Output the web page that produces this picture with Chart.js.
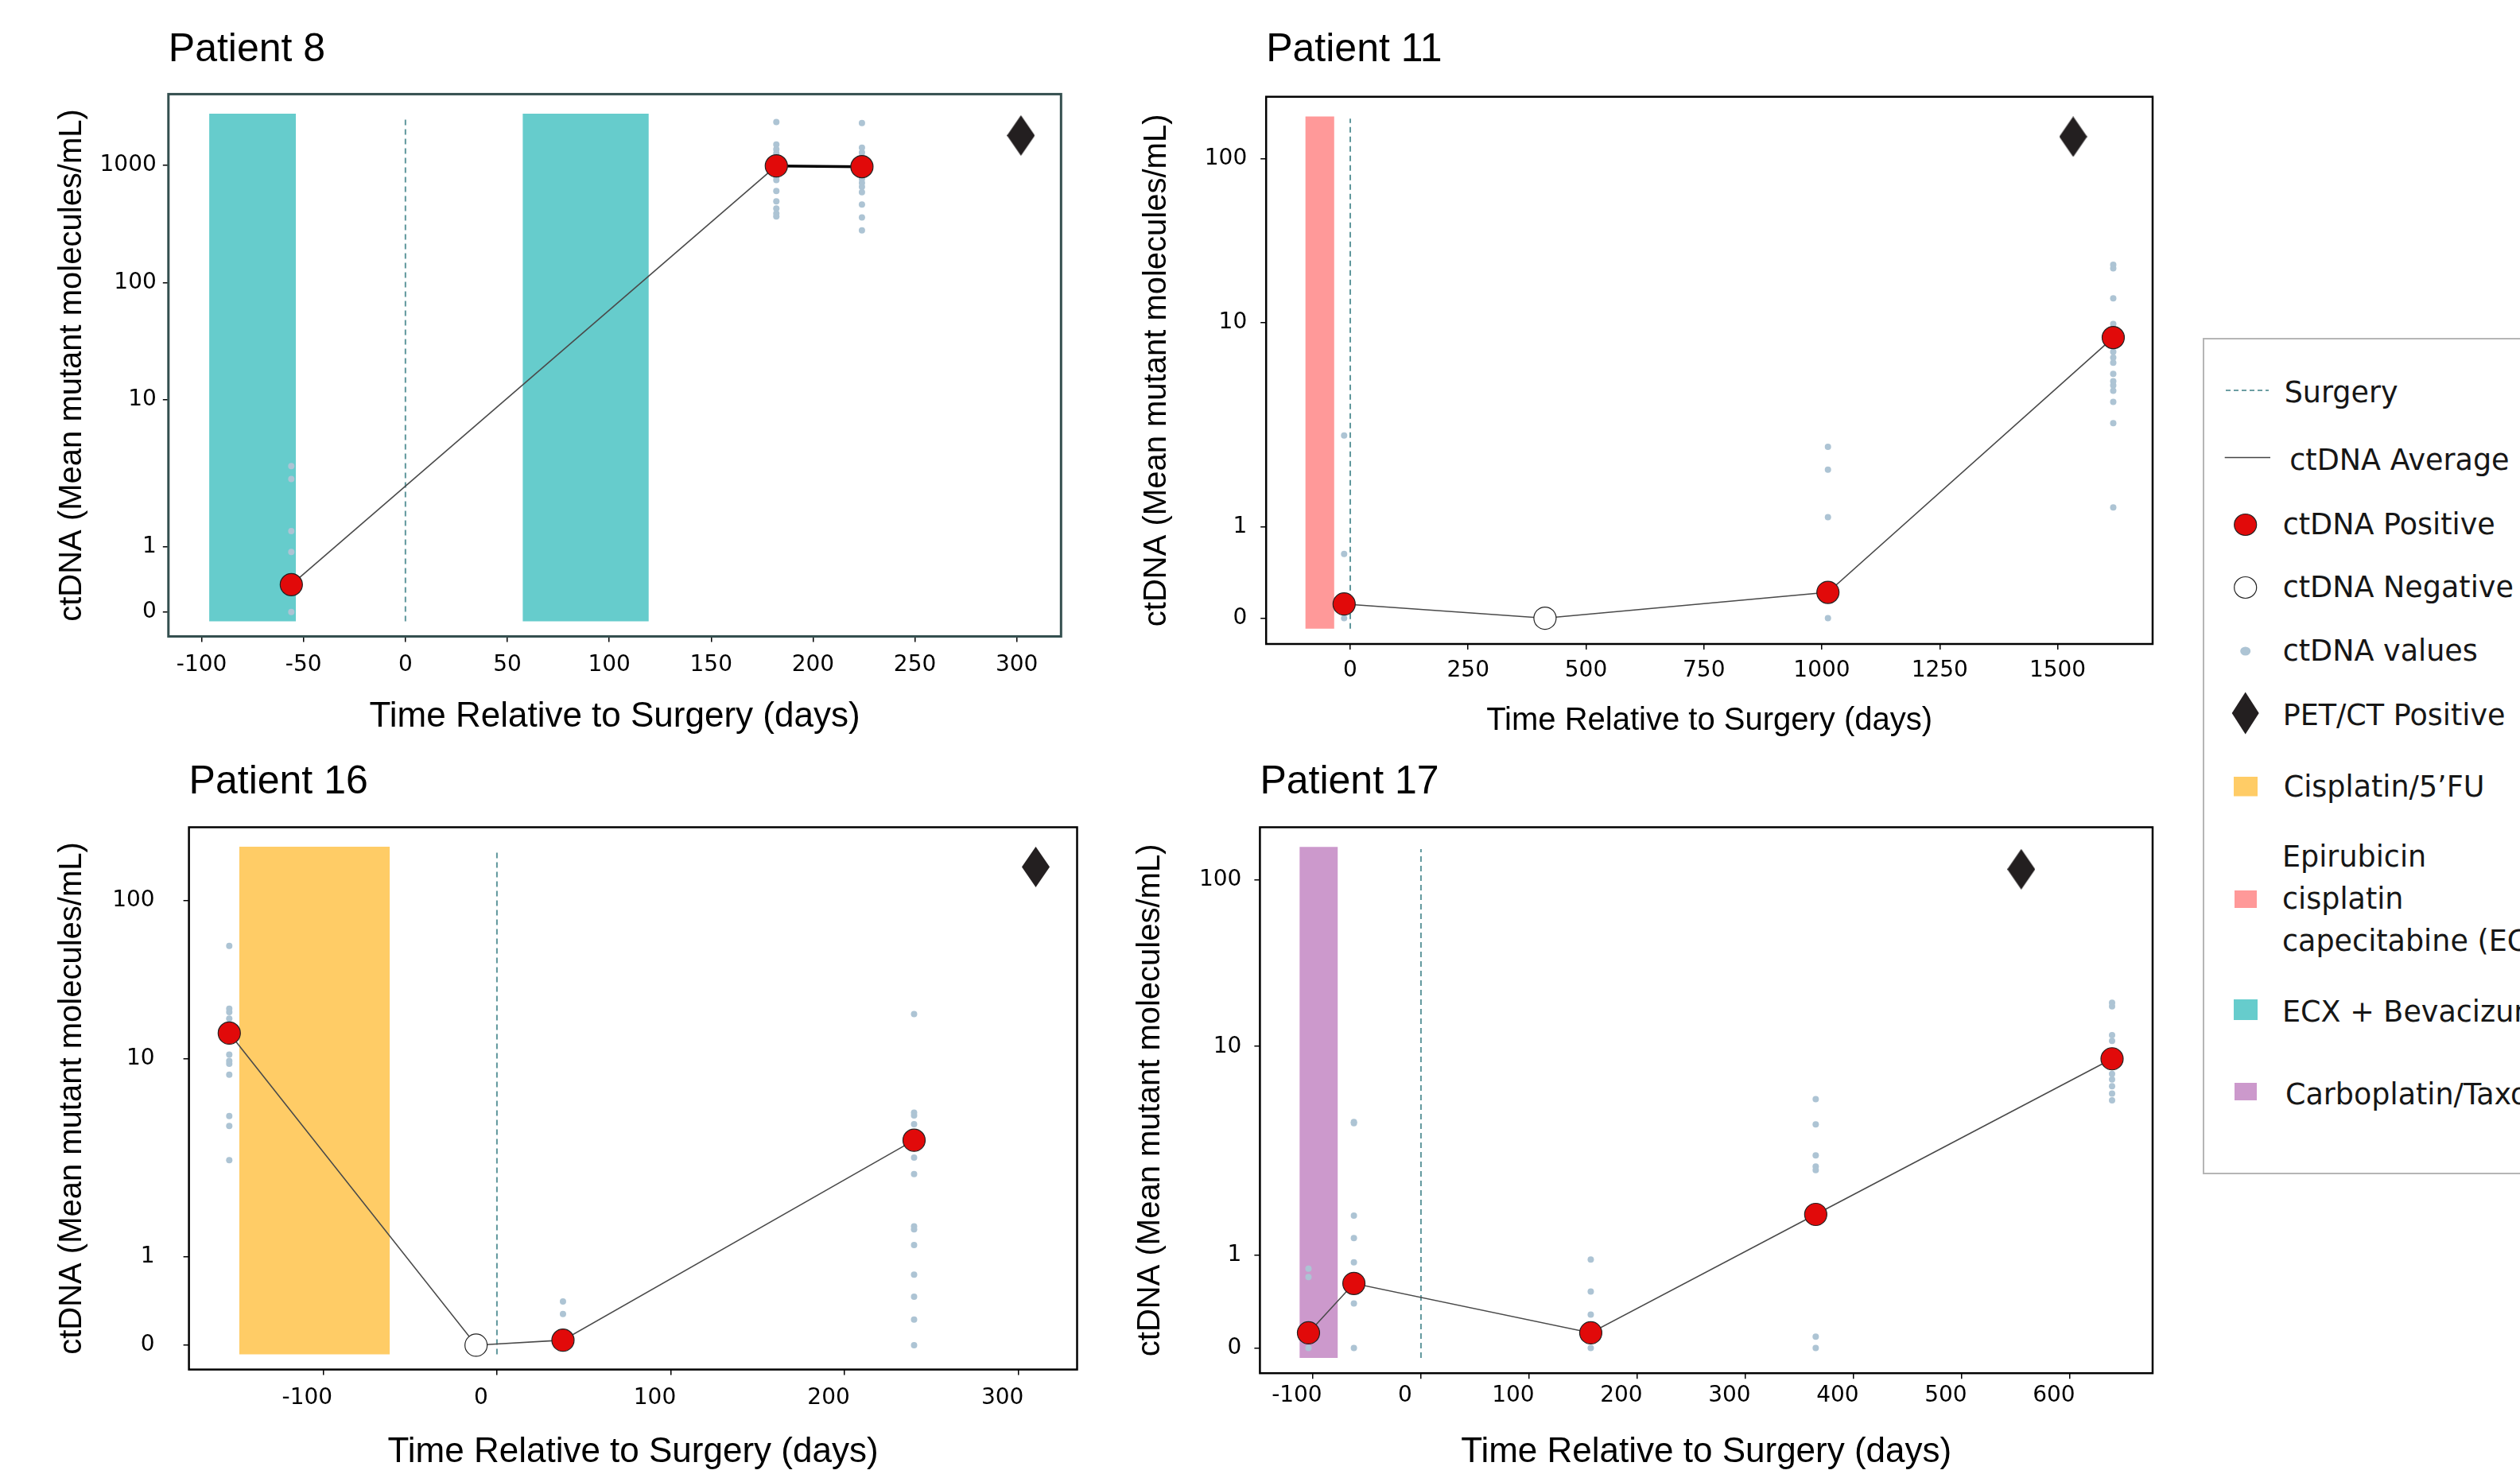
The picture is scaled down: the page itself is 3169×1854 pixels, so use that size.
<!DOCTYPE html>
<html><head><meta charset="utf-8">
<script src="https://cdn.jsdelivr.net/npm/chart.js@4.4.1/dist/chart.umd.min.js"></script>
<style>
html,body{margin:0;padding:0;background:#fff;width:3169px;height:1854px;overflow:hidden;position:relative;}
canvas{position:absolute;}
#legend{position:absolute;left:2770px;top:425px;width:460px;height:1052px;border:2px solid #b5b5b5;box-sizing:border-box;font-family:'DejaVu Sans';font-size:36.5px;color:#161616;}
#legend svg{position:absolute;left:0;top:0;}
.lg{position:absolute;white-space:nowrap;line-height:40px;height:40px;}
.lg3{position:absolute;white-space:nowrap;line-height:53px;}
</style></head><body>
<div id="legend">
<svg width="460" height="1050">
<line x1="27" y1="64" x2="81" y2="64" stroke="#6d9ea3" stroke-width="1.8" stroke-dasharray="6 4"/>
<line x1="25.7" y1="148.5" x2="83" y2="148.5" stroke="#444" stroke-width="1.6"/>
<ellipse cx="51.7" cy="233" rx="14" ry="13.5" fill="#e10a0a" stroke="#222" stroke-width="1.2"/>
<ellipse cx="51.7" cy="312" rx="14" ry="13.5" fill="#fff" stroke="#222" stroke-width="1.2"/>
<ellipse cx="51.7" cy="392" rx="6.5" ry="5.5" fill="#adc4d4"/>
<polygon points="51.7,443.5 68.7,470 51.7,496.5 34.7,470" fill="#231f20"/>
<rect x="37" y="550" width="30" height="24.5" fill="#ffcc66"/>
<rect x="38" y="693" width="28" height="22" fill="#ff9999"/>
<rect x="37" y="830" width="30" height="26" fill="#66cccc"/>
<rect x="38" y="935" width="28" height="22" fill="#cc99cc"/>
</svg>
<div class="lg" style="left:100.7px;top:47px">Surgery</div>
<div class="lg" style="left:107.3px;top:132px">ctDNA Average</div>
<div class="lg" style="left:98.7px;top:213px">ctDNA Positive</div>
<div class="lg" style="left:98.7px;top:292px">ctDNA Negative</div>
<div class="lg" style="left:98.7px;top:372px">ctDNA values</div>
<div class="lg" style="left:98.7px;top:453px">PET/CT Positive</div>
<div class="lg" style="left:99.7px;top:543px">Cisplatin/5’FU</div>
<div class="lg3" style="left:98px;top:623.5px">Epirubicin<br>cisplatin<br>capecitabine (ECX)</div>
<div class="lg" style="left:98px;top:826px">ECX + Bevacizumab</div>
<div class="lg" style="left:102px;top:930px">Carboplatin/Taxol</div>
</div>
<script>
// ---------------- DATA (ctDNA in mean mutant molecules/mL, time in days relative to surgery) ----------------
const yTicks8 = [0, 1, 10, 100, 1000];
const yTicksStd = [0, 1, 10, 100];
const xTicks8 = [-100, -50, 0, 50, 100, 150, 200, 250, 300];
const xTicks11 = [0, 250, 500, 750, 1000, 1250, 1500];
const xTicks16 = [-100, 0, 100, 200, 300];
const xTicks17 = [-100, 0, 100, 200, 300, 400, 500, 600];

// Patient 8
const p8Days = [-56, 182, 224];
const p8Mean = [0.42, 990, 975];
const p8Status = ['pos', 'pos', 'pos'];
const p8Samples = [
  [3.54, 2.89, 1.28, 0.92, 0],
  [2340, 1510, 1370, 1270, 800, 750, 604, 494, 429, 389, 366],
  [2300, 1416, 1288, 1189, 767, 708, 655, 590, 464, 360, 279]
];
const p8PetDay = [302];
const p8PetValue = [1800];
const p8TherapyStart = [-96.3, 57.5];
const p8TherapyEnd = [-53.7, 119.4];
const p8TherapyDrug = ['ECX + Bevacizumab', 'ECX + Bevacizumab'];

// Patient 11
const p11Days = [-13, 413, 1013, 1618];
const p11Mean = [0.156, 0, 0.284, 8.42];
const p11Status = ['pos', 'neg', 'pos', 'pos'];
const p11Samples = [
  [2.8, 0.706, 0],
  [],
  [2.47, 1.91, 1.12, 0],
  [22.5, 21.4, 14.0, 9.82, 7.17, 6.73, 6.35, 5.6, 5.16, 4.92, 4.63, 4.09, 3.22, 1.25]
];
const p11PetDay = [1533];
const p11PetValue = [137];
const p11TherapyStart = [-95.4];
const p11TherapyEnd = [-33.9];
const p11TherapyDrug = ['ECX'];

// Patient 16
const p16Days = [-154, -12, 38, 240];
const p16Mean = [14.5, 0, 0.057, 3.88];
const p16Status = ['pos', 'neg', 'pos', 'pos'];
const p16Samples = [
  [51.6, 20.7, 19.7, 17.9, 10.6, 9.73, 9.43, 8.29, 5.14, 4.58, 3.08],
  [],
  [0.495, 0.354],
  [19.1, 5.34, 5.17, 4.67, 3.17, 2.62, 1.43, 1.38, 1.15, 0.8, 0.55, 0.29, 0]
];
const p16PetDay = [310];
const p16PetValue = [163];
const p16TherapyStart = [-148.3];
const p16TherapyEnd = [-61.6];
const p16TherapyDrug = ['Cisplatin/5’FU'];

// Patient 17
const p17Days = [-104, -62, 157, 365, 639];
const p17Mean = [0.164, 0.697, 0.164, 1.57, 8.73];
const p17Status = ['pos', 'pos', 'pos', 'pos', 'pos'];
const p17Samples = [
  [0.856, 0.767, 0],
  [4.35, 4.29, 1.55, 1.21, 0.925, 0.48, 0],
  [0.955, 0.61, 0.36, 0],
  [5.6, 4.24, 3.01, 2.66, 2.56, 0.124, 0],
  [18.3, 17.4, 11.7, 10.8, 7.98, 7.39, 6.95, 6.45, 5.95, 5.52]
];
const p17PetDay = [555];
const p17PetValue = [116];
const p17TherapyStart = [-112.3];
const p17TherapyEnd = [-76.8];
const p17TherapyDrug = ['Carboplatin/Taxol'];

// ---------------- STYLE / SCALE ----------------
const drugColors = {
  'Cisplatin/5’FU': '#ffcc66',
  'ECX': '#ff9999',
  'ECX + Bevacizumab': '#66cccc',
  'Carboplatin/Taxol': '#cc99cc'
};
// axis transform (in decades): 0 -> 0, 1 -> U1, 10 -> U10, log above
const U1 = 0.557, U10 = 1.812;
function toU(v) {
  if (v <= 1) return U1 * v;
  if (v <= 10) return U1 + (U10 - U1) * Math.log10(v);
  return U10 + Math.log10(v / 10);
}

const diamond = document.createElement('canvas');
diamond.width = 35; diamond.height = 51;
(function () {
  const c = diamond.getContext('2d');
  c.fillStyle = '#231f20';
  c.beginPath(); c.moveTo(17.5, 0); c.lineTo(35, 25.5); c.lineTo(17.5, 51); c.lineTo(0, 25.5); c.closePath(); c.fill();
})();

const framePlugin = {
  id: 'frame',
  afterDatasetsDraw(chart, args, opts) {
    const a = chart.chartArea, ctx = chart.ctx;
    ctx.save(); ctx.strokeStyle = opts.color; ctx.lineWidth = opts.width;
    ctx.strokeRect(a.left, a.top, a.right - a.left, a.bottom - a.top);
    ctx.restore();
  }
};

const panels = [
  { title: 'Patient 8', canvas: [63, 0, 1281, 928], yAxisW: 148.8, xAxisH: 127.5, titlePad: [33, 25.4], padRight: 9.7,
    xRange: [-116.3, 321.7], yRange: [-0.208, 4.42], xTicks: xTicks8, yTicks: yTicks8, yTickPad: 8, xTickPad: 12, xLabelOffset: 0,
    xTitleSize: 44, frameColor: '#344f4f', frameWidth: 3,
    days: p8Days, mean: p8Mean, status: p8Status, samples: p8Samples, petDay: p8PetDay, petValue: p8PetValue,
    tStart: p8TherapyStart, tEnd: p8TherapyEnd, tDrug: p8TherapyDrug, boldSegment: 1 },
  { title: 'Patient 11', canvas: [1427, 0, 1290, 931], yAxisW: 165.2, xAxisH: 121, titlePad: [33, 28.7], padRight: 10,
    xRange: [-178.4, 1701.5], yRange: [-0.158, 3.193], xTicks: xTicks11, yTicks: yTicksStd, yTickPad: 17, xTickPad: 10, xLabelOffset: 0,
    xTitleSize: 40, frameColor: '#000', frameWidth: 2.5,
    days: p11Days, mean: p11Mean, status: p11Status, samples: p11Samples, petDay: p11PetDay, petValue: p11PetValue,
    tStart: p11TherapyStart, tEnd: p11TherapyEnd, tDrug: p11TherapyDrug, boldSegment: -1 },
  { title: 'Patient 16', canvas: [63, 940, 1301, 913], yAxisW: 174.6, xAxisH: 130.4, titlePad: [14.6, 25.9], padRight: 9.5,
    xRange: [-177.2, 333.8], yRange: [-0.154, 3.275], xTicks: xTicks16, yTicks: yTicksStd, yTickPad: 36, xTickPad: 12, xLabelOffset: -20,
    xTitleSize: 44, frameColor: '#000', frameWidth: 2.5,
    days: p16Days, mean: p16Mean, status: p16Status, samples: p16Samples, petDay: p16PetDay, petValue: p16PetValue,
    tStart: p16TherapyStart, tEnd: p16TherapyEnd, tDrug: p16TherapyDrug, boldSegment: -1 },
  { title: 'Patient 17', canvas: [1419, 940, 1298, 913], yAxisW: 165.4, xAxisH: 125.8, titlePad: [14.6, 25.9], padRight: 10,
    xRange: [-148.9, 676.5], yRange: [-0.151, 3.129], xTicks: xTicks17, yTicks: yTicksStd, yTickPad: 16, xTickPad: 5, xLabelOffset: -20,
    xTitleSize: 44, frameColor: '#000', frameWidth: 2.5,
    days: p17Days, mean: p17Mean, status: p17Status, samples: p17Samples, petDay: p17PetDay, petValue: p17PetValue,
    tStart: p17TherapyStart, tEnd: p17TherapyEnd, tDrug: p17TherapyDrug, boldSegment: -1 }
];

function build(p) {
  const cv = document.createElement('canvas');
  cv.width = p.canvas[2]; cv.height = p.canvas[3];
  cv.style.left = p.canvas[0] + 'px'; cv.style.top = p.canvas[1] + 'px';
  document.body.appendChild(cv);
  const [yMin, yMax] = p.yRange, span = yMax - yMin;
  const bandLo = yMin + 0.028 * span, bandHi = yMax - 0.036 * span, surgHi = yMax - 0.04 * span;
  const ds = [];
  p.tStart.forEach((s, i) => {
    ds.push({ data: [{ x: s, y: bandHi }, { x: p.tEnd[i], y: bandHi }], fill: { value: bandLo },
      backgroundColor: drugColors[p.tDrug[i]], borderColor: 'rgba(0,0,0,0)', borderWidth: 0, pointRadius: 0, order: 10 });
  });
  ds.push({ data: [{ x: 0, y: bandLo }, { x: 0, y: surgHi }], borderColor: '#5f979c', borderWidth: 2,
    borderDash: [7, 5], pointRadius: 0, fill: false, order: 9 });
  const samp = [];
  p.days.forEach((d, i) => p.samples[i].forEach(v => samp.push({ x: d, y: toU(v) })));
  ds.push({ data: samp, showLine: false, pointRadius: 4, backgroundColor: '#adc4d4', borderWidth: 0, order: 8 });
  const avg = p.days.map((d, i) => ({ x: d, y: toU(p.mean[i]) }));
  ds.push({ data: avg, borderColor: '#4a4a4a', borderWidth: 1.6, pointRadius: 0, fill: false, tension: 0, order: 7,
    segment: {
      borderWidth: c => c.p0DataIndex === p.boldSegment ? 3.5 : 1.6,
      borderColor: c => c.p0DataIndex === p.boldSegment ? '#000' : '#4a4a4a'
    } });
  ds.push({ data: avg.filter((_, i) => p.status[i] === 'pos'), showLine: false, pointRadius: 14,
    backgroundColor: '#e10a0a', borderColor: '#222', borderWidth: 1.2, order: 6 });
  ds.push({ data: avg.filter((_, i) => p.status[i] === 'neg'), showLine: false, pointRadius: 14,
    backgroundColor: '#fff', borderColor: '#222', borderWidth: 1.2, order: 6 });
  ds.push({ data: p.petDay.map((d, i) => ({ x: d, y: toU(p.petValue[i]) })), showLine: false,
    pointStyle: diamond, pointRadius: 18, order: 5 });

  const tickFont = { family: 'DejaVu Sans', size: 28 };
  new Chart(cv, {
    type: 'line',
    data: { datasets: ds },
    plugins: [framePlugin],
    options: {
      responsive: false, animation: false, events: [],
      layout: { autoPadding: false, padding: { left: 0, right: p.padRight, top: 0, bottom: 0 } },
      plugins: {
        legend: { display: false }, tooltip: { enabled: false },
        title: { display: true, text: p.title, align: 'start', fullSize: false, color: '#000',
          font: { family: 'Liberation Sans', size: 50, weight: 'normal' },
          padding: { top: p.titlePad[0], bottom: p.titlePad[1] } },
        frame: { color: p.frameColor, width: p.frameWidth }
      },
      scales: {
        x: {
          type: 'linear', min: p.xRange[0], max: p.xRange[1],
          afterBuildTicks: s => { s.ticks = p.xTicks.map(v => ({ value: v })); },
          afterFit: s => { s.height = p.xAxisH; },
          ticks: { font: tickFont, color: '#000', padding: p.xTickPad, autoSkip: false, maxRotation: 0, minRotation: 0,
            labelOffset: p.xLabelOffset, callback: v => String(v) },
          grid: { drawOnChartArea: false, drawTicks: true, tickLength: 7, color: '#000', lineWidth: 1.5 },
          border: { display: false },
          title: { display: true, text: 'Time Relative to Surgery (days)', color: '#000',
            font: { family: 'Liberation Sans', size: p.xTitleSize }, padding: { top: 0, bottom: 0 } }
        },
        y: {
          type: 'linear', min: yMin, max: yMax,
          afterBuildTicks: s => { s.ticks = p.yTicks.map(v => ({ value: toU(v) })); },
          afterFit: s => { s.width = p.yAxisW; },
          ticks: { font: tickFont, color: '#000', padding: p.yTickPad, autoSkip: false,
            callback: (v, i) => String(p.yTicks[i]) },
          grid: { drawOnChartArea: false, drawTicks: true, tickLength: 7, color: '#000', lineWidth: 1.5 },
          border: { display: false },
          title: { display: true, text: 'ctDNA (Mean mutant molecules/mL)', color: '#000',
            font: { family: 'Liberation Sans', size: 40 }, padding: { top: 4, bottom: 0 } }
        }
      }
    }
  });
}
panels.forEach(build);
</script>
</body></html>
